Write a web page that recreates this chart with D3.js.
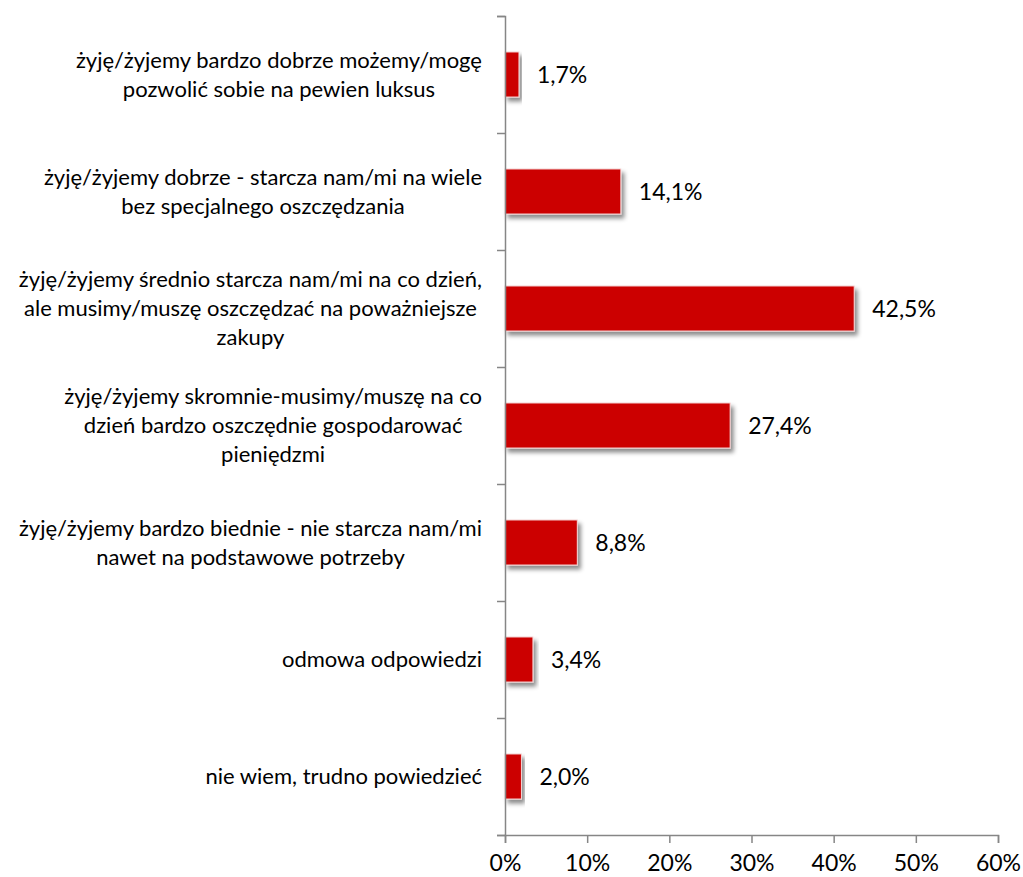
<!DOCTYPE html>
<html>
<head>
<meta charset="utf-8">
<script src="https://cdn.jsdelivr.net/npm/d3@7"></script>
<style>
  html, body { margin: 0; padding: 0; background: #fff; }
  svg { display: block; }
  text { font-family: Lato, "Open Sans", sans-serif; fill: #000; }
</style>
</head>
<body>
<svg id="chart" width="1023" height="877"></svg>
<script>
// Category labels (each entry is the wrapped lines of one label)
const categories = [
  ["żyję/żyjemy bardzo dobrze możemy/mogę", "pozwolić sobie na pewien luksus"],
  ["żyję/żyjemy dobrze - starcza nam/mi na wiele", "bez specjalnego oszczędzania"],
  ["żyję/żyjemy średnio starcza nam/mi na co dzień,", "ale musimy/muszę oszczędzać na poważniejsze", "zakupy"],
  ["żyję/żyjemy skromnie-musimy/muszę na co", "dzień bardzo oszczędnie gospodarować", "pieniędzmi"],
  ["żyję/żyjemy bardzo biednie - nie starcza nam/mi", "nawet na podstawowe potrzeby"],
  ["odmowa odpowiedzi"],
  ["nie wiem, trudno powiedzieć"]
];
// Percentages for each category
const values = [1.7, 14.1, 42.5, 27.4, 8.8, 3.4, 2.0];
// Value axis ticks
const xTicks = [0, 10, 20, 30, 40, 50, 60];

const svg = d3.select("#chart");
const fontSize = 22;
const lineGap = 29;

const x = d3.scaleLinear().domain([0, 60]).range([505, 998]);
const y = d3.scaleBand().domain(d3.range(categories.length)).range([16, 835]).paddingInner(0.615).paddingOuter(0.3075);
const yTicks = d3.scaleLinear().domain([0, categories.length]).range([16, 835]);

// Drop shadow for the bars
const defs = svg.append("defs");
const f = defs.append("filter").attr("id", "shadow")
  .attr("x", "-20%").attr("y", "-30%").attr("width", "140%").attr("height", "170%");
f.append("feDropShadow").attr("dx", 3).attr("dy", 4).attr("stdDeviation", 2.2)
  .attr("flood-color", "#000").attr("flood-opacity", 0.45);

// Bars
svg.append("g").selectAll("rect").data(values).join("rect")
  .attr("x", x(0))
  .attr("y", (d, i) => y(i))
  .attr("width", d => x(d) - x(0))
  .attr("height", y.bandwidth())
  .attr("fill", "#cc0000")
  .attr("stroke", "#f4d6d6")
  .attr("stroke-width", 1)
  .attr("filter", "url(#shadow)");

// Value labels
svg.append("g").selectAll("text").data(values).join("text")
  .attr("x", d => x(d) + 18)
  .attr("y", (d, i) => y(i) + y.bandwidth() / 2)
  .attr("dy", "0.35em")
  .style("font-size", (fontSize + 1) + "px")
  .text(d => d.toFixed(1).replace(".", ",") + "%");

// Vertical category axis (ticks between categories)
const yAxis = svg.append("g").attr("transform", `translate(${x(0)},0)`)
  .call(d3.axisLeft(yTicks).ticks(categories.length).tickFormat("").tickSizeOuter(0).tickSize(8));
yAxis.selectAll("path, line").attr("stroke", "#868686").attr("stroke-width", 1.5);

// Horizontal value axis
const xAxis = svg.append("g").attr("transform", `translate(0,${yTicks(categories.length)})`)
  .call(d3.axisBottom(x).tickValues(xTicks).tickFormat(d => d + "%").tickSizeOuter(0).tickSize(8).tickPadding(12));
xAxis.selectAll("path, line").attr("stroke", "#868686").attr("stroke-width", 1.5);
xAxis.selectAll("text").style("font-size", (fontSize + 1) + "px").attr("fill", "#000")
  .style("font-family", "Lato, sans-serif");

// Category labels: each block is centred text, right-aligned to the axis
const labelRight = 482;
const labels = svg.append("g");
categories.forEach((lines, i) => {
  const g = labels.append("g");
  const texts = lines.map((line, j) => g.append("text")
    .attr("y", y(i) + y.bandwidth() / 2 + (j - (lines.length - 1) / 2) * lineGap)
    .attr("dy", "0.35em")
    .attr("text-anchor", "middle")
    .style("font-size", fontSize + "px")
    .text(line));
  const maxW = d3.max(texts, t => t.node().getComputedTextLength());
  texts.forEach(t => t.attr("x", labelRight - maxW / 2));
});
</script>
</body>
</html>
